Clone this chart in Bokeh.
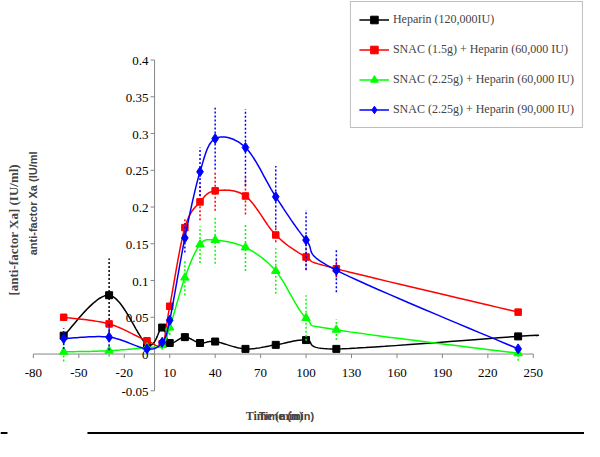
import math
import numpy as np
from bokeh.plotting import figure
from bokeh.models import Legend, LegendItem, Label, BoxAnnotation
from bokeh.core.properties import value
from bokeh.embed import file_html
from bokeh.resources import INLINE

# ---------------- data ----------------
time_min = [-60, -30, -5, 5, 10, 20, 30, 40, 60, 80, 100, 120, 240]

heparin_120k = [0.025, 0.080, 0.013, 0.036, 0.015, 0.023, 0.015, 0.017, 0.007, 0.0125, 0.019, 0.007, 0.024]
heparin_120k_err = [0, 0.050, 0, 0, 0, 0, 0, 0, 0, 0, 0, 0, 0]
heparin_tail_x = [252]
heparin_tail_y = [0.025]

snac15_hep60k = [0.050, 0.041, 0.018, 0.014, 0.065, 0.172, 0.207, 0.222, 0.215, 0.162, 0.132, 0.116, 0.057]
snac15_hep60k_err = [0, 0, 0, 0, 0, 0.013, 0.025, 0.027, 0.025, 0.010, 0.017, 0.012, 0]

snac225_hep60k = [0.003, 0.0045, 0.009, 0.012, 0.036, 0.104, 0.149, 0.155, 0.145, 0.113, 0.049, 0.033, 0.001]
snac225_hep60k_err = [0.013, 0.008, 0, 0.006, 0.010, 0.024, 0.025, 0.032, 0.032, 0.031, 0.031, 0.014, 0.010]

snac225_hep90k = [0.021, 0.023, 0.007, 0.016, 0.046, 0.158, 0.248, 0.293, 0.281, 0.214, 0.155, 0.114, 0.007]
snac225_hep90k_err = [0.014, 0.018, 0, 0, 0, 0.020, 0.033, 0.042, 0.052, 0.042, 0.041, 0.030, 0]

series_labels = [
    "Heparin (120,000IU)",
    "SNAC (1.5g) + Heparin (60,000 IU)",
    "SNAC (2.25g) + Heparin (60,000 IU)",
    "SNAC (2.25g) + Heparin (90,000 IU)",
]

x_ticks = [-80, -50, -20, 10, 40, 70, 100, 130, 160, 190, 220, 250]
x_tick_labels = ["-80", "-50", "-20", "10", "40", "70", "100", "130", "160", "190", "220", "250"]
y_ticks = [-0.05, 0, 0.05, 0.1, 0.15, 0.2, 0.25, 0.3, 0.35, 0.4]
y_tick_labels = ["-0.05", "0", "0.05", "0.1", "0.15", "0.2", "0.25", "0.3", "0.35", "0.4"]

x_title = "Time (min)"
y_title_1 = "[anti-factor Xa] (IU/ml)"
y_title_2 = "anti-factor Xa (IU/ml"

# ---------------- style ----------------
SX = 1.515   # px per minute
SY = 735.0   # px per IU/ml
SERIF = "Liberation Serif"
SANS = "Liberation Sans"
AXIS_COLOR = "#868686"


def smooth(xs, ys, n=20):
    """Excel-like smoothed line (Catmull-Rom Bezier in pixel space)."""
    px = [x * SX for x in xs]
    py = [y * SY for y in ys]
    m = len(px)
    ox, oy = [], []
    for i in range(m - 1):
        i0 = i - 1 if i > 0 else i
        i3 = i + 2 if i + 2 < m else i + 1
        c1x = px[i] + (px[i + 1] - px[i0]) / 6.0
        c1y = py[i] + (py[i + 1] - py[i0]) / 6.0
        c2x = px[i + 1] - (px[i3] - px[i]) / 6.0
        c2y = py[i + 1] - (py[i3] - py[i]) / 6.0
        ts = np.linspace(0, 1, n, endpoint=(i == m - 2))
        for t in ts:
            a = (1 - t) ** 3
            b = 3 * (1 - t) ** 2 * t
            c = 3 * (1 - t) * t ** 2
            d = t ** 3
            ox.append(a * px[i] + b * c1x + c * c2x + d * px[i + 1])
            oy.append(a * py[i] + b * c1y + c * c2y + d * py[i + 1])
    return [v / SX for v in ox], [v / SY for v in oy]


p = figure(width=584, height=441, x_range=(-101.7, 283.8), y_range=(-0.119, 0.481),
           output_backend="svg", toolbar_location=None,
           x_axis_location=None, y_axis_location=None, min_border=0)
p.grid.visible = False
p.outline_line_color = None
p.background_fill_color = "white"

# axes drawn at zero
p.segment(x0=[x_ticks[0]], y0=[0], x1=[x_ticks[-1]], y1=[0], line_color=AXIS_COLOR, line_width=1)
p.segment(x0=[0], y0=[y_ticks[0]], x1=[0], y1=[y_ticks[-1]], line_color=AXIS_COLOR, line_width=1)
p.ray(x=x_ticks, y=[0] * len(x_ticks), length=4, angle=-math.pi / 2, length_units="screen",
      line_color=AXIS_COLOR, line_width=1)
p.ray(x=[0] * len(y_ticks), y=y_ticks, length=4, angle=math.pi, length_units="screen",
      line_color=AXIS_COLOR, line_width=1)
p.text(x=x_ticks, y=[0] * len(x_ticks), text=x_tick_labels, text_align="center",
       text_baseline="middle", y_offset=19, text_font=value(SERIF), text_font_size="13px",
       text_color="black")
p.text(x=[0] * len(y_ticks), y=y_ticks, text=y_tick_labels, text_align="right",
       text_baseline="middle", x_offset=-6, y_offset=1, text_font=value(SERIF), text_font_size="13px",
       text_color="black")

series = [
    (heparin_120k, heparin_120k_err, "black", "square", 7),
    (snac15_hep60k, snac15_hep60k_err, "#FF0000", "square", 6.5),
    (snac225_hep60k, snac225_hep60k_err, "#00FF00", "triangle", 8.5),
    (snac225_hep90k, snac225_hep90k_err, "#0000FF", "diamond", 10),
]

items = []
for k, (vals, errs, col, mk, sz) in enumerate(series):
    ex = [x for x, e in zip(time_min, errs) if e > 0]
    lo = [v - e for v, e in zip(vals, errs) if e > 0]
    hi = [v + e for v, e in zip(vals, errs) if e > 0]
    p.segment(x0=ex, y0=lo, x1=ex, y1=hi, line_color=col, line_width=1.5, line_dash="2 2")
    lx, ly = list(time_min), list(vals)
    if k == 0:
        lx += heparin_tail_x
        ly += heparin_tail_y
    sx, sy = smooth(lx, ly)
    r_line = p.line(sx, sy, line_color=col, line_width=1.5)
    r_pts = p.scatter(time_min, vals, marker=mk, size=sz, fill_color=col, line_color=col)
    items.append(LegendItem(label=series_labels[k], renderers=[r_line, r_pts]))

legend = Legend(items=items, location="top_right", margin=1,
                label_text_font=SERIF, label_text_font_size="12px",
                glyph_width=30, glyph_height=19, spacing=11, padding=8,
                label_standoff=4, border_line_color="#808080", border_line_width=1,
                background_fill_color="white", background_fill_alpha=1.0)
p.add_layout(legend)

# axis titles
p.add_layout(Label(x=79.1, y=-0.0837, text=x_title, text_align="center", text_baseline="middle",
                   text_font=SERIF, text_font_style="bold", text_font_size="12px"))
p.add_layout(Label(x=87.1, y=-0.0837, text=x_title, text_align="center", text_baseline="middle",
                   text_font=SANS, text_font_style="bold", text_font_size="11px"))
p.add_layout(Label(x=-93.1, y=0.169, text=y_title_1, angle=math.pi / 2, text_align="center",
                   text_baseline="middle", text_font=SERIF, text_font_style="bold",
                   text_font_size="13px"))
p.add_layout(Label(x=-80.5, y=0.205, text=y_title_2, angle=math.pi / 2, text_align="center",
                   text_baseline="middle", text_font=SANS, text_font_style="bold",
                   text_font_size="11px"))

# page rules below the chart
p.add_layout(BoxAnnotation(left=-44.3, bottom=-0.1088, top=-0.1061,
                           fill_color="black", fill_alpha=1.0, line_color=None))
p.add_layout(BoxAnnotation(right=-97.1, bottom=-0.1088, top=-0.1061,
                           fill_color="black", fill_alpha=1.0, line_color=None))

open("out.html", "w").write(file_html(p, INLINE))
